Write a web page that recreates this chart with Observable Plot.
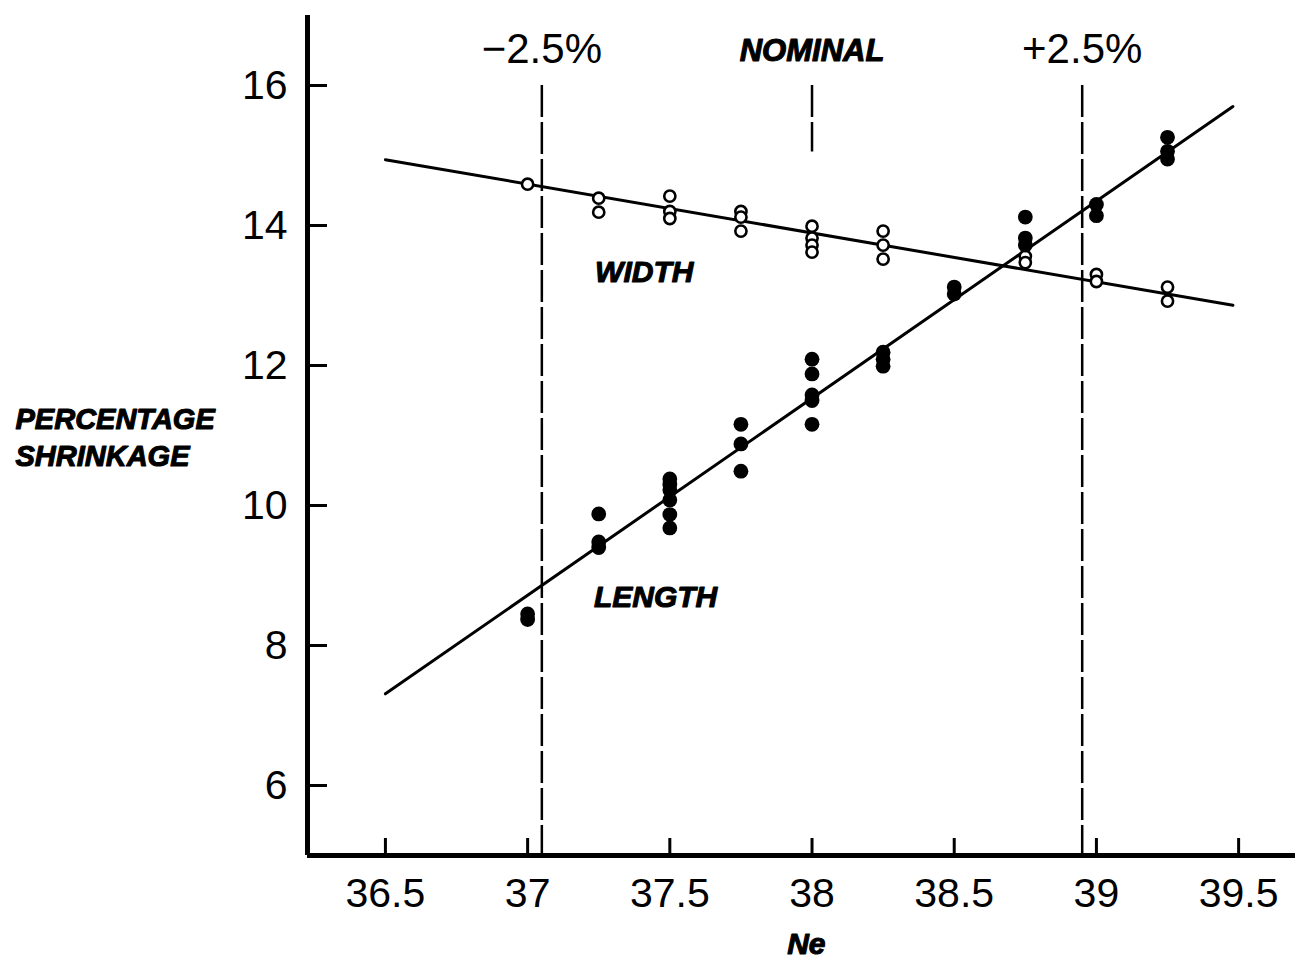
<!DOCTYPE html>
<html><head><meta charset="utf-8">
<script src="https://cdn.jsdelivr.net/npm/d3@7"></script>
<script src="https://cdn.jsdelivr.net/npm/@observablehq/plot@0.6"></script>
<style>
html,body{margin:0;padding:0;background:#fff;}
#chart svg{display:block;}
</style></head><body><div id="chart"></div>
<script>
// ---- data ----
const xTicks = [36.5, 37, 37.5, 38, 38.5, 39, 39.5];
const yTicks = [6, 8, 10, 12, 14, 16];
const xDomain = [36.226, 39.7];
const yDomain = [5, 17];

const neLevels = [37, 37.25, 37.5, 37.75, 38, 38.25, 38.5, 38.75, 39, 39.25];
const widthValues = [
  [14.59],
  [14.39, 14.19],
  [14.42, 14.20, 14.10],
  [14.20, 14.12, 13.92],
  [13.99, 13.82, 13.72, 13.62],
  [13.92, 13.72, 13.52],
  [],
  [13.56, 13.47],
  [13.30, 13.20],
  [13.12, 12.92]
];
const lengthValues = [
  [8.45, 8.37],
  [9.88, 9.48, 9.40],
  [10.38, 10.30, 10.22, 10.08, 9.87, 9.68],
  [11.16, 10.88, 10.49],
  [12.09, 11.88, 11.58, 11.50, 11.16],
  [12.19, 12.09, 11.99],
  [13.12, 13.02],
  [14.12, 13.82, 13.72],
  [14.30, 14.14],
  [15.26, 15.06, 14.95]
];
const widthFit = [[36.5, 14.94], [39.48, 12.86]];
const lengthFit = [[36.5, 7.31], [39.48, 15.70]];

const pctLines = [
  {x: 37.05, top: 16, bottom: 5, label: "\u22122.5%"},
  {x: 38.95, top: 16, bottom: 5, label: "+2.5%"}
];
const nominalLine = [{x: 38, top: 16, bottom: 15.05, label: "NOMINAL"}];
const curveLabels = [
  {text: "WIDTH", x: 37.41, y: 13.33},
  {text: "LENGTH", x: 37.45, y: 8.69}
];
const xLabel = [{text: "Ne", x: 37.98}];
const yLabel = ["PERCENTAGE\nSHRINKAGE"];

// ---- build tables ----
const flat = (vals) => neLevels.flatMap((ne, i) => vals[i].map(v => ({ne, v})));
const widthPts = flat(widthValues);
const lengthPts = flat(lengthValues);

const W = 1295, H = 962, ML = 307, MR = 0, MT = 15, MB = 107;
const yTickLen = 20, xTickLen = 17;
const dash = "32,5";
const comic = {fontWeight: "bold", fontStyle: "italic", fill: "#000", stroke: "#000", strokeWidth: 1.1};
const fmt = d => String(d);

const chart = Plot.plot({
  width: W,
  height: H,
  marginLeft: ML,
  marginRight: MR,
  marginTop: MT,
  marginBottom: MB,
  style: {fontFamily: "'Liberation Sans', Arial, sans-serif", fontSize: "41px", color: "#000", background: "#fff"},
  x: {domain: xDomain, label: null},
  y: {domain: yDomain, label: null},
  marks: [
    Plot.ruleX(pctLines, {x: "x", y1: "top", y2: "bottom", strokeWidth: 2.5, strokeDasharray: dash}),
    Plot.ruleX(nominalLine, {x: "x", y1: "top", y2: "bottom", strokeWidth: 2.5, strokeDasharray: dash}),
    Plot.line(widthFit, {x: d => d[0], y: d => d[1], strokeWidth: 3}),
    Plot.line(lengthFit, {x: d => d[0], y: d => d[1], strokeWidth: 3}),
    Plot.dot(widthPts, {x: "ne", y: "v", r: 5.6, stroke: "#000", fill: "#fff", strokeWidth: 2.6}),
    Plot.dot(lengthPts, {x: "ne", y: "v", r: 7.4, fill: "#000", stroke: "none"}),
    // axis lines
    Plot.ruleX([xDomain[0]], {strokeWidth: 5}),
    Plot.ruleY([yDomain[0]], {strokeWidth: 5}),
    // ticks pointing into the plot
    Plot.ruleY(yTicks, {insetRight: W - ML - MR - yTickLen, strokeWidth: 3}),
    Plot.ruleX(xTicks, {insetTop: H - MT - MB - xTickLen, strokeWidth: 3}),
    // tick labels
    Plot.axisY(yTicks, {tickSize: 0, tickPadding: 20, fontSize: 41, tickFormat: fmt, label: null}),
    Plot.axisX(xTicks, {tickSize: 0, tickPadding: 22, fontSize: 41, tickFormat: fmt, label: null}),
    // annotations
    Plot.text(pctLines, {x: "x", text: "label", frameAnchor: "top", lineAnchor: "bottom", dy: 47, fontSize: 42}),
    Plot.text(nominalLine, {x: "x", text: "label", frameAnchor: "top", lineAnchor: "bottom", dy: 45, fontSize: 31, ...comic}),
    Plot.text(curveLabels, {x: "x", y: "y", text: "text", fontSize: 30, ...comic}),
    Plot.text(xLabel, {x: "x", text: "text", frameAnchor: "bottom", lineAnchor: "bottom", dy: 98, fontSize: 30, ...comic}),
    Plot.text(yLabel, {frameAnchor: "left", dx: -292, textAnchor: "start", lineAnchor: "middle", lineHeight: 1.28, fontSize: 29, ...comic})
  ]
});
document.getElementById("chart").appendChild(chart);
</script>
</body></html>
